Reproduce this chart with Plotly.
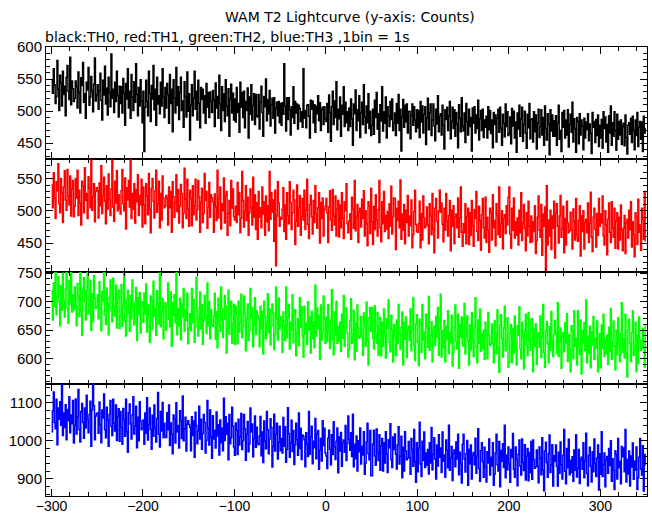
import plotly.graph_objects as go
from plotly.subplots import make_subplots

# time bins (1 bin = 1 s)
time_s = list(range(-300, 350))

TH0 = [
549,528,566,541,512,523,579,534,501,556,544,508,562,526,539,493,553,571,531,518,584,510,547,535,515,
520,547,538,505,561,529,497,552,540,576,514,527,489,545,533,568,509,522,554,531,499,542,583,516,525,
541,503,532,559,517,486,548,525,570,511,536,494,553,529,507,589,520,534,498,545,515,562,524,491,539,
512,538,497,551,528,478,543,519,566,505,531,489,557,522,501,546,514,574,526,493,537,508,549,516,482,
531,437,506,548,515,493,562,527,484,540,519,571,502,534,478,553,511,524,496,545,508,566,522,490,537,
505,543,526,481,557,512,534,468,549,520,497,568,509,538,487,529,553,501,516,475,546,523,491,561,500,
527,455,509,541,493,520,562,503,531,486,548,512,474,537,518,534,497,524,481,543,506,529,490,530,515,
498,532,517,476,544,505,523,489,556,512,470,538,501,527,484,549,508,493,535,461,519,542,497,528,486,
519,483,537,498,512,467,545,506,529,490,531,474,515,501,536,458,522,495,541,486,509,527,479,526,493,
491,526,472,514,539,498,461,523,507,550,485,518,496,532,477,510,520,489,521,466,504,514,493,515,482,
512,478,513,495,574,508,469,521,487,521,502,463,507,490,538,481,515,497,511,472,509,504,484,499,475,
566,489,501,474,509,510,492,458,517,503,516,482,510,467,508,496,524,485,513,470,502,506,479,507,488,
484,512,467,525,498,453,507,531,479,516,490,546,471,503,488,522,461,509,495,538,476,514,482,499,470,
505,476,519,488,447,511,496,533,470,502,485,524,459,498,514,479,541,491,466,508,482,527,473,500,462,
478,503,464,517,490,529,472,496,451,510,485,538,469,499,481,522,458,507,493,476,515,487,519,470,482,
497,462,512,481,526,470,503,438,491,518,475,509,483,511,466,499,500,457,494,511,478,507,486,468,502,
474,501,459,515,483,508,466,495,507,448,489,520,471,498,511,462,486,511,477,454,503,480,524,468,492,
496,463,509,478,441,502,487,506,470,492,515,457,484,506,473,502,461,498,480,443,510,489,468,521,476,
469,497,451,512,484,463,503,476,490,438,505,481,507,466,494,473,517,455,488,501,470,503,459,486,475,
492,458,507,471,501,465,486,443,498,479,494,452,489,503,467,506,474,447,495,481,460,511,476,499,462,
465,491,449,504,477,500,458,483,436,497,472,509,461,488,506,453,479,500,466,442,495,474,512,457,486,
488,452,499,468,494,441,481,503,459,476,502,463,490,447,508,472,455,496,480,432,502,469,494,461,485,
461,493,447,482,509,456,470,437,498,475,501,458,486,463,502,444,479,495,467,514,452,488,473,436,490,
484,449,496,463,486,477,440,489,458,483,471,496,454,480,466,434,498,475,484,451,487,462,494,445,478,
458,487,442,499,473,491,452,479,436,493,466,508,447,482,461,499,470,439,495,456,484,463,486,448,476,
481,446,494,459,433,478,482,464,489,451,492,470,440,486,462,498,445,475,484,456,483,437,492,466,474,
]

TH1 = [
540,505,559,520,488,545,531,573,511,497,550,528,482,537,562,517,501,564,523,509,554,492,534,547,491,
507,550,520,563,493,532,512,478,546,539,497,567,516,527,488,553,535,505,579,501,522,542,483,530,536,
531,489,543,508,570,496,523,552,515,480,539,503,557,518,493,534,579,506,484,546,512,562,500,525,504,
495,531,564,511,500,551,472,536,517,547,506,580,488,527,502,542,481,533,514,556,493,524,509,549,475,
537,509,480,542,523,494,558,502,466,535,550,515,489,531,563,498,511,546,474,527,486,554,520,505,508,
524,519,478,537,505,530,467,545,522,490,513,556,499,533,481,508,541,527,474,496,566,518,488,549,503,
476,532,519,477,539,494,508,549,486,502,547,522,467,513,535,482,496,558,516,530,473,505,544,490,525,
520,514,467,526,506,485,563,489,519,537,472,511,500,551,481,523,530,462,496,516,477,547,504,534,491,
486,507,482,544,494,528,466,488,561,516,475,500,539,485,521,462,497,534,505,478,552,490,525,471,513,
456,530,490,505,474,537,495,514,462,523,483,508,469,561,487,528,498,517,453,532,415,492,545,512,476,
490,487,502,536,468,509,456,528,493,480,545,513,471,497,532,517,448,484,540,476,505,524,462,491,519,
486,532,471,501,549,479,457,510,524,491,464,516,482,539,496,473,505,528,450,513,488,520,461,502,507,
519,497,451,506,531,486,470,533,492,478,523,461,503,516,460,509,474,528,489,457,514,500,542,480,466,
484,495,456,521,503,473,547,469,490,510,451,498,504,475,518,488,531,461,500,480,446,514,507,465,535,
483,448,507,471,525,486,461,502,547,474,452,514,480,530,468,493,472,499,457,511,476,538,464,491,520,
519,440,504,485,515,474,548,456,495,470,510,449,501,482,524,461,492,477,517,443,463,499,532,479,468,
467,480,515,443,496,455,523,489,474,477,506,478,449,511,492,463,527,471,435,504,519,484,458,500,532,
498,512,479,452,504,470,527,484,461,493,516,438,501,476,508,449,490,495,474,520,459,489,537,467,445,
480,466,511,449,491,504,448,497,462,516,477,445,502,488,530,468,454,507,485,439,494,519,474,458,521,
451,490,470,436,504,497,455,525,474,485,446,511,493,463,537,459,480,500,441,488,494,465,508,478,521,
537,464,442,504,470,520,458,483,462,489,447,501,466,528,454,481,510,473,438,497,461,515,476,451,492,
452,483,468,508,434,454,490,523,470,459,510,431,495,476,506,408,539,447,486,461,501,440,492,473,515,
427,496,511,476,450,492,524,459,472,507,435,488,447,515,481,466,469,498,470,441,503,484,455,519,463,
453,485,508,430,493,468,500,441,482,487,466,512,451,481,529,459,437,490,504,471,444,496,462,519,476,
495,481,523,461,447,500,478,432,487,512,467,451,514,473,459,504,442,484,497,441,490,455,509,470,438,
473,493,434,481,487,458,501,471,514,444,483,463,429,497,490,448,518,467,478,439,504,486,456,530,452,
]

TH2 = [
719,668,733,691,766,677,709,744,700,658,728,685,750,703,673,722,776,689,662,737,696,756,682,712,686,
726,692,658,732,709,674,751,684,641,724,742,700,668,719,757,679,695,737,650,714,665,746,706,688,691,
712,670,735,688,649,718,701,751,677,660,724,697,642,708,738,684,665,741,691,675,729,654,705,720,653,
675,730,657,693,750,666,640,704,720,681,648,711,670,738,687,659,698,725,632,707,677,716,645,694,700,
664,715,679,731,647,694,670,629,710,702,652,736,674,688,641,719,697,661,750,656,682,706,635,691,698,
650,693,733,669,656,717,622,699,676,712,663,752,642,688,658,706,633,696,673,723,648,685,667,715,626,
653,679,649,723,663,704,629,656,743,689,640,670,717,652,695,625,667,711,676,644,733,658,700,635,686,
660,657,675,715,634,683,619,706,664,648,726,688,637,669,711,693,610,653,720,643,678,701,627,661,695,
625,692,677,626,701,647,663,713,637,656,710,680,614,669,696,632,649,723,673,690,621,660,707,642,684,
676,670,621,692,653,683,608,701,674,635,663,714,646,687,624,657,696,680,616,642,726,669,633,706,651,
674,667,611,682,658,632,726,637,673,695,617,664,650,712,628,678,686,605,646,670,623,707,655,691,640,
603,692,644,662,625,700,650,673,610,683,635,665,619,729,640,689,653,676,599,694,633,646,710,670,627,
673,630,695,648,618,667,721,634,607,682,641,701,627,657,631,664,613,678,636,711,622,654,689,645,603,
616,667,705,627,643,685,598,662,613,694,654,636,639,674,640,606,680,657,622,699,632,589,672,690,648,
690,636,617,693,643,627,681,606,657,672,605,664,622,687,640,601,670,653,703,629,612,676,649,594,660,
638,605,668,627,695,644,616,655,682,589,664,634,673,602,651,657,632,687,614,650,707,623,597,661,677,
629,588,669,661,611,695,633,647,600,678,656,620,709,615,641,665,594,650,657,623,674,638,690,606,653,
713,603,649,619,667,594,657,634,684,609,646,628,676,587,611,654,694,630,617,678,583,660,637,673,624,
622,697,608,640,675,631,589,659,616,681,634,604,653,707,620,593,668,627,687,613,643,617,650,599,664,
649,600,681,641,623,626,661,627,593,667,644,609,686,619,576,659,677,635,603,654,692,614,630,672,585,
594,645,660,593,652,610,675,628,589,658,641,691,617,600,664,637,582,648,678,624,605,681,631,615,669,
670,577,652,622,661,590,639,645,620,675,602,638,695,611,585,649,665,626,593,656,615,683,632,604,643,
667,645,609,698,604,630,654,583,639,646,612,663,627,679,595,642,618,577,658,650,600,684,622,636,589,
684,620,607,668,573,650,627,663,614,703,593,639,609,657,584,647,624,674,599,636,618,666,577,601,644,
584,659,618,678,604,634,608,641,590,655,613,688,599,631,666,622,580,650,607,672,625,595,644,698,611,
636,601,678,611,568,651,669,627,595,646,684,606,622,664,577,641,592,673,633,615,618,653,619,585,659,
]

TH3 = [
1024,1079,1128,1048,1032,1109,990,1086,1057,1103,1041,1152,1014,1073,1035,1095,1003,1082,1053,1116,1021,1068,1045,1106,994,
1040,1110,1018,1063,1135,1030,997,1077,1098,1048,1007,1086,1034,1120,1055,1021,1069,1104,986,1081,1148,1092,1003,1065,1072,
1073,1020,1102,1043,995,1081,1060,1123,1029,1008,1088,1055,986,1069,1106,1038,1014,1109,1047,1026,1094,1001,1064,1084,999,
1077,1035,991,1085,1056,1012,1109,1024,970,1074,1097,1044,1005,1068,1116,1018,1038,1091,982,1062,1000,1103,1052,1029,1033,
1055,991,1073,1020,1113,1002,1043,1086,1030,978,1067,1012,1094,1035,997,1059,1127,1017,984,1077,1026,1101,1008,1046,1014,
1009,1074,1029,1094,988,1047,1017,966,1068,1058,994,1100,1023,1040,981,1079,1052,1006,1118,1000,1032,1062,973,1044,1053,
1043,1036,974,1063,1014,1052,957,1075,1040,992,1026,1091,1005,1057,978,1019,1069,1048,968,1001,1106,1034,989,1081,1011,
954,1066,1005,1028,981,1076,1013,1042,963,1055,995,1033,974,1112,1001,1063,1017,1046,950,1069,992,1008,1088,1039,984,
962,1047,1027,964,1057,989,1010,1072,977,1001,1069,1032,949,1018,1051,971,992,1086,1023,1044,958,1006,1065,983,1036,
994,990,1013,1064,961,1023,943,1052,999,979,1077,1029,966,1005,1058,1035,931,985,1070,973,1017,1046,952,996,1038,
974,1006,968,1061,986,1037,944,977,1087,1019,957,995,1054,972,1027,938,990,1046,1003,962,1073,980,1033,951,1015,
1012,1003,932,1021,991,959,1077,965,1011,1038,940,999,982,1059,953,1017,1027,925,976,1006,947,1053,988,1033,968,
960,927,1007,1028,978,937,1016,964,1050,985,951,999,1034,916,1011,973,1022,933,995,1002,970,1040,948,993,1065,
1004,975,1021,959,1070,932,991,953,1013,921,1000,971,1034,939,986,963,1024,912,942,997,1046,966,950,1027,908,
908,991,1028,960,936,1031,969,948,1016,923,986,1006,921,995,942,1024,965,917,1003,982,1045,951,930,1010,977,
1018,965,926,989,1037,939,959,1012,903,983,921,1024,973,950,954,998,956,912,1006,977,933,1030,945,891,995,
919,981,1049,939,906,999,948,1023,930,968,936,977,913,995,942,1035,924,965,1008,952,900,989,934,1016,957,
981,917,1023,946,963,904,1002,975,929,1041,923,955,985,896,967,976,932,997,952,1017,911,970,940,889,991,
1017,952,918,966,1001,883,978,940,989,900,962,969,937,1007,915,960,1032,927,894,974,995,945,904,983,931,
892,971,942,1005,910,957,934,995,883,913,968,1017,937,921,998,879,975,946,992,930,1041,903,962,924,984,
939,891,977,956,1019,925,904,984,951,882,965,1002,934,910,1005,943,922,990,897,960,980,895,969,916,998,
899,1002,951,928,932,976,934,890,984,955,911,1008,923,869,973,996,943,904,967,1015,917,937,990,881,961,
946,989,933,881,970,915,997,938,900,962,1030,920,887,980,929,1004,911,949,917,958,894,976,923,1016,905,
928,977,888,950,957,925,995,903,948,1020,915,882,962,983,933,892,971,919,1005,940,906,954,989,871,966,
912,1024,906,938,968,879,950,959,915,980,935,1000,894,953,923,872,974,964,900,1006,929,946,887,985,958,
981,919,1030,892,951,913,973,881,960,931,994,899,946,923,984,872,902,957,1006,926,910,987,868,964,935,
]

series = [TH0, TH1, TH2, TH3]
colors = ["#000000", "#ff0000", "#00ff00", "#0000ff"]
names = ["TH0", "TH1", "TH2", "TH3"]
y_ranges = [[425, 600], [406, 580], [556, 753], [855, 1150]]
y_major = [50, 50, 50, 100]
y_minor = [10, 10, 10, 20]

title_text = "WAM T2 Lightcurve (y-axis: Counts)"
subtitle_text = "black:TH0, red:TH1, green:TH2, blue:TH3 ,1bin = 1s"

TICK_FONT = "Liberation Sans, Arial, sans-serif"
TEXT_FONT = "DejaVu Sans, sans-serif"

fig = make_subplots(rows=4, cols=1, shared_xaxes=True, vertical_spacing=0)

for i, (ys, c, n) in enumerate(zip(series, colors, names)):
    fig.add_trace(
        go.Scatter(x=time_s, y=ys, mode="lines", line=dict(color=c, width=1.5, shape="hv"),
                   name=n, showlegend=False, hoverinfo="skip"),
        row=i + 1, col=1,
    )
    fig.update_yaxes(
        range=y_ranges[i], dtick=y_major[i], tick0=0, automargin=False,
        ticks="inside", ticklen=7, tickwidth=1, tickcolor="black",
        minor=dict(dtick=y_minor[i], ticks="inside", ticklen=4, tickcolor="black", showgrid=False),
        showline=True, linecolor="black", linewidth=1, mirror="allticks",
        showgrid=False, zeroline=False,
        tickfont=dict(family=TICK_FONT, size=15, color="black"),
        row=i + 1, col=1,
    )
    fig.update_xaxes(
        range=[-306, 351], tick0=-300, dtick=100, automargin=False,
        ticks="inside", ticklen=7, tickwidth=1, tickcolor="black",
        minor=dict(dtick=20, ticks="inside", ticklen=4, tickcolor="black", showgrid=False),
        showline=True, linecolor="black", linewidth=1, mirror="allticks",
        showgrid=False, zeroline=False, ticklabelstandoff=-3,
        tickfont=dict(family=TICK_FONT, size=14, color="black"),
        row=i + 1, col=1,
    )

PH = 515 - 47 - 19
fig.update_layout(
    width=652, height=515,
    margin=dict(l=46, r=5, t=47, b=19),
    paper_bgcolor="white", plot_bgcolor="white",
    font=dict(family=TEXT_FONT, color="black"),
    hovermode=False,
    annotations=[
        dict(text=title_text, xref="paper", yref="paper", x=(350 - 46) / 601, y=1 + 30 / PH,
             xanchor="center", yanchor="middle", showarrow=False,
             font=dict(family=TEXT_FONT, size=14, color="black")),
        dict(text=subtitle_text, xref="paper", yref="paper", x=-3 / 601, y=1 + 10 / PH,
             xanchor="left", yanchor="middle", showarrow=False,
             font=dict(family=TEXT_FONT, size=14, color="black")),
    ],
)

fig.write_html(
    "out.html",
    config={"displayModeBar": False},
    post_script="document.body.style.margin='0';document.body.style.padding='0';",
)
